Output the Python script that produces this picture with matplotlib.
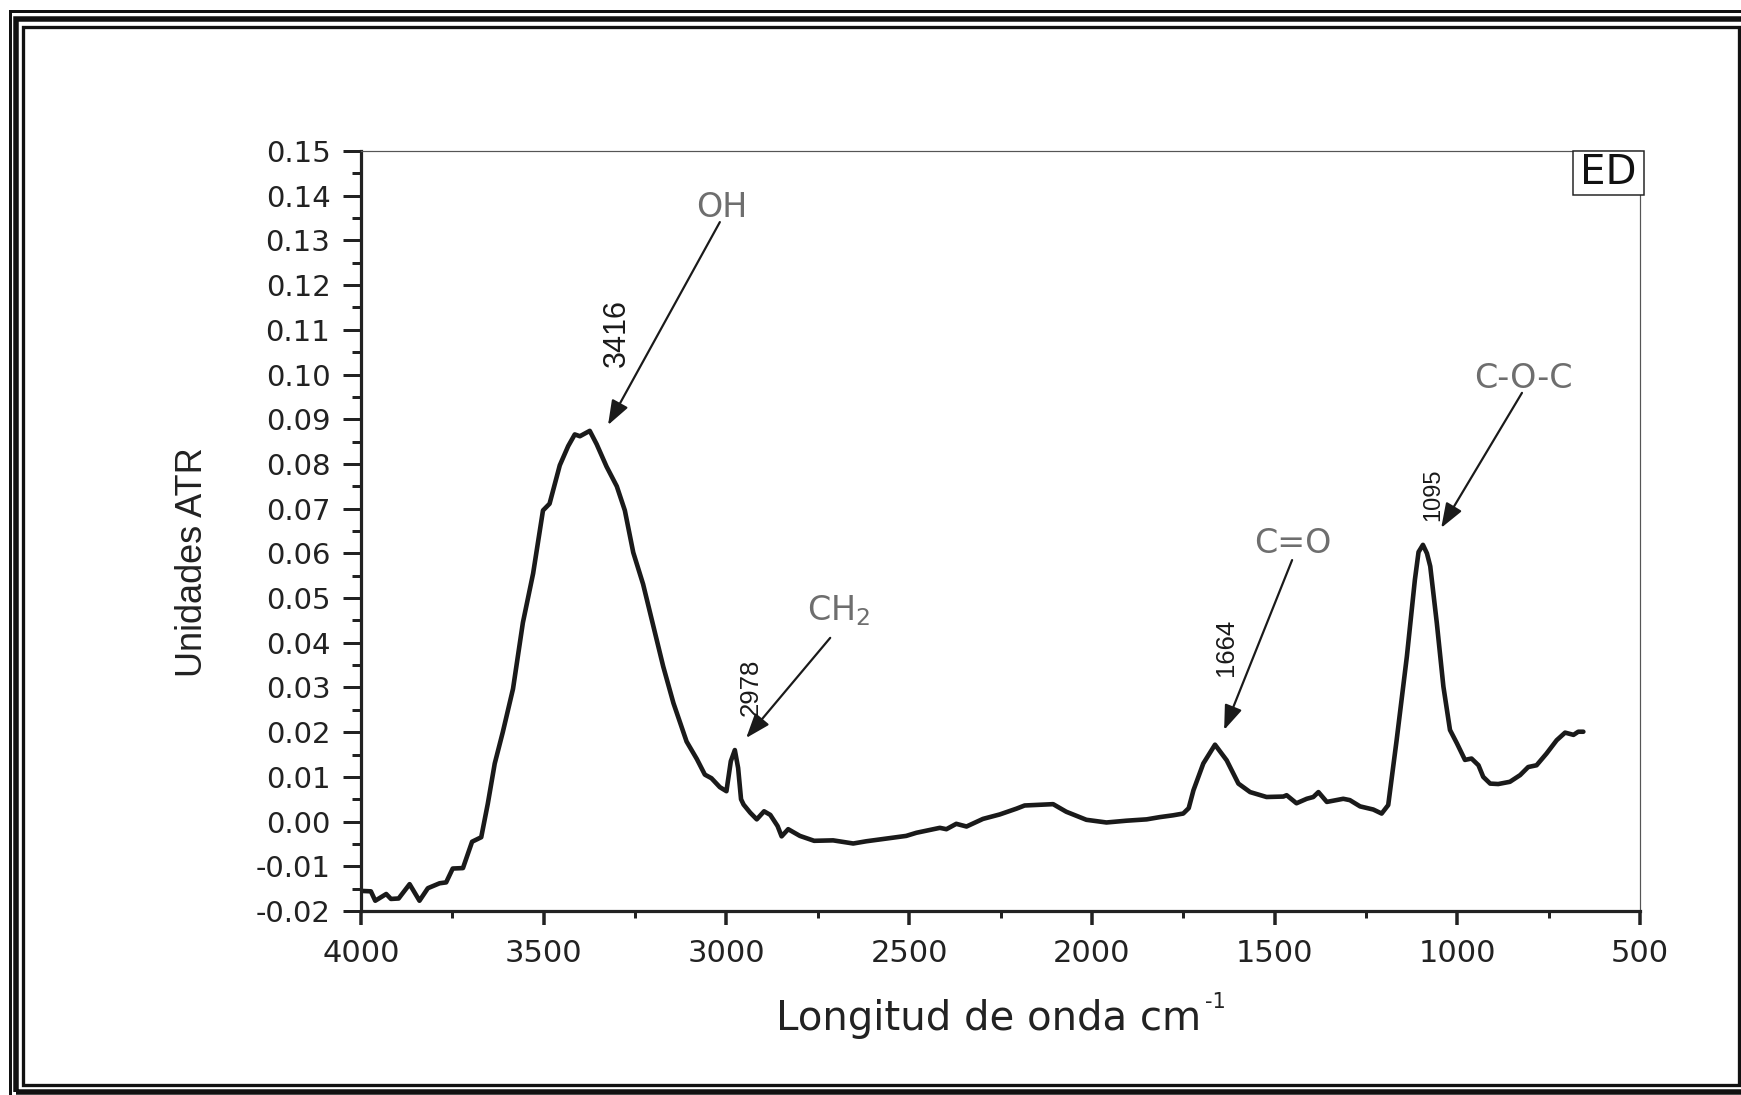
# import
import matplotlib
matplotlib.use('Agg')
import matplotlib.pyplot as plt
from matplotlib.patches import Rectangle
from matplotlib.ticker import MultipleLocator, FormatStrFormatter

# data
wavenumber = [4000, 3973, 3961, 3931, 3918, 3897, 3867, 3840, 3817, 3785,
              3767, 3749, 3721, 3696, 3671, 3653, 3634, 3612, 3584, 3557,
              3529, 3502, 3484, 3456, 3433, 3415, 3401, 3374, 3355, 3328,
              3300, 3278, 3255, 3228, 3200, 3173, 3145, 3109, 3081, 3059,
              3041, 3018, 3000, 2988, 2977, 2968, 2960, 2953, 2935, 2917,
              2897, 2880, 2860, 2849, 2831, 2799, 2760, 2708, 2653, 2617,
              2562, 2508, 2480, 2416, 2398, 2371, 2343, 2298, 2252, 2206,
              2184, 2106, 2070, 2015, 1960, 1905, 1850, 1814, 1778, 1750,
              1735, 1722, 1695, 1663, 1631, 1599, 1567, 1522, 1476, 1467,
              1440, 1412, 1394, 1380, 1357, 1312, 1294, 1266, 1230, 1207,
              1189, 1166, 1138, 1116, 1106, 1094, 1083, 1074, 1056, 1038,
              1020, 1001, 979, 961, 942, 929, 910, 888, 856, 828,
              806, 783, 756, 728, 705, 682, 669, 655]
absorbance = [-0.0155, -0.0156, -0.0177, -0.0162, -0.0173, -0.0172, -0.0140, -0.0177, -0.0149, -0.0138,
              -0.0136, -0.0105, -0.0104, -0.0045, -0.0035, 0.0040, 0.0130, 0.0200, 0.0297, 0.0445,
              0.0555, 0.0696, 0.0711, 0.0797, 0.0840, 0.0866, 0.0862, 0.0874, 0.0844, 0.0794,
              0.0750, 0.0696, 0.0602, 0.0531, 0.0437, 0.0347, 0.0265, 0.0179, 0.0140, 0.0105,
              0.0097, 0.0077, 0.0068, 0.0135, 0.0160, 0.0120, 0.0050, 0.0038, 0.0020, 0.0005,
              0.0023, 0.0015, -0.0010, -0.0033, -0.0017, -0.0032, -0.0043, -0.0042, -0.0049, -0.0044,
              -0.0038, -0.0032, -0.0025, -0.0014, -0.0017, -0.0005, -0.0011, 0.0006, 0.0016, 0.0029,
              0.0036, 0.0039, 0.0022, 0.0004, -0.0002, 0.0002, 0.0005, 0.0010, 0.0014, 0.0018,
              0.0030, 0.0070, 0.0130, 0.0172, 0.0137, 0.0085, 0.0066, 0.0055, 0.0056, 0.0059,
              0.0041, 0.0051, 0.0055, 0.0066, 0.0044, 0.0051, 0.0048, 0.0034, 0.0027, 0.0018,
              0.0037, 0.0182, 0.0369, 0.0541, 0.0603, 0.0619, 0.0600, 0.0571, 0.0444, 0.0302,
              0.0205, 0.0175, 0.0138, 0.0141, 0.0126, 0.0100, 0.0085, 0.0084, 0.0089, 0.0104,
              0.0122, 0.0126, 0.0152, 0.0182, 0.0199, 0.0194, 0.0201, 0.0201]

group_names = ['OH', 'CH$_2$', 'C=O', 'C-O-C']
peak_labels = ['3416', '2978', '1664', '1095']
sample_name = 'ED'

# parameters
W, H, DPI = 1741, 1095, 100
GRAY = '#6e6e6e'
INK = '#1a1a1a'
ARIAL = ['Liberation Sans', 'DejaVu Sans']

# annotation layout: (name xy, number xy, number size, arrow start, arrow tip)
layout = [
    ((3012, 0.1353), (3300, 0.1093), 22, (3018, 0.1341), (3324, 0.0887)),
    ((2692, 0.0451), (2933, 0.0301), 18.5, (2716, 0.0411), (2946, 0.0187)),
    ((1449, 0.0601), (1633, 0.0390), 18.5, (1452, 0.0585), (1638, 0.0205)),
    ((820, 0.0970), (1066, 0.0730), 17, (823, 0.0959), (1044, 0.0657)),
]


# def
def px(v):
    # pixels -> points
    return v * 72.0 / DPI


def frame(fig, left, top, right, bottom, lw):
    rect = Rectangle((left / W, 1 - bottom / H), (right - left) / W, (bottom - top) / H,
                     transform=fig.transFigure, fill=False, edgecolor='#111111',
                     linewidth=px(lw), joinstyle='miter')
    fig.patches.append(rect)


plt.rcParams['font.family'] = 'DejaVu Sans'
plt.rcParams['axes.unicode_minus'] = False

fig = plt.figure(figsize=(W / DPI, H / DPI), dpi=DPI)
ax = fig.add_axes([361 / W, 1 - 911 / H, (1640 - 361) / W, (911 - 151) / H])

# page border (triple line, cut on the right and bottom)
frame(fig, 10, 11, 1760, 1105, 3)
frame(fig, 16.2, 18.8, 1746, 1092, 5.5)
frame(fig, 23.3, 26.7, 1738.8, 1084.5, 3.3)

# spectrum
ax.plot(wavenumber, absorbance, color=INK, linewidth=px(4.6),
        solid_joinstyle='round', solid_capstyle='round')

# axes
ax.set_xlim(4000, 500)
ax.set_ylim(-0.02, 0.15)
ax.xaxis.set_major_locator(MultipleLocator(500))
ax.xaxis.set_minor_locator(MultipleLocator(250))
ax.yaxis.set_major_locator(MultipleLocator(0.01))
ax.yaxis.set_minor_locator(MultipleLocator(0.005))
ax.yaxis.set_major_formatter(FormatStrFormatter('%.2f'))

for side in ['left', 'bottom']:
    ax.spines[side].set_linewidth(px(3.2))
    ax.spines[side].set_color('#222222')
for side in ['top', 'right']:
    ax.spines[side].set_linewidth(px(1.2))
    ax.spines[side].set_color('#555555')

ax.tick_params(axis='y', which='major', direction='out', length=13, width=px(3),
               labelsize=21, pad=9, color='#222222', labelcolor='#222222')
ax.tick_params(axis='y', which='minor', direction='out', length=6.5, width=px(3),
               color='#222222')
ax.tick_params(axis='x', which='major', direction='out', length=10, width=px(3.5),
               labelsize=22, pad=10, color='#222222', labelcolor='#222222')
ax.tick_params(axis='x', which='minor', direction='out', length=5, width=px(3),
               color='#222222')

ax.set_xlabel('Longitud de onda cm', fontsize=29, color='#222222', va='baseline')
ax.xaxis.set_label_coords((989 - 361) / 1279, -0.1566)
ax.set_ylabel('Unidades ATR', fontsize=26, family=ARIAL, color='#222222', va='center')
ax.yaxis.set_label_coords((192 - 361) / 1279, (911 - 562) / 760)

# superscript of the x label, placed right after the label text
fig.canvas.draw()
box = ax.xaxis.label.get_window_extent()
fig.text((box.x1 + 3) / W, (H - 1008) / H, '-1', fontsize=15, color='#222222',
         ha='left', va='baseline')

# sample tag
ax.add_patch(Rectangle((0.9476, 0.9421), 0.0555, 0.0579, transform=ax.transAxes,
                       fill=True, facecolor='white', edgecolor='#222222',
                       linewidth=px(1.5), clip_on=False, zorder=5))
ax.text(0.9754, 0.971, sample_name, transform=ax.transAxes, ha='center', va='center',
        fontsize=29, color='#111111', zorder=6)

# peak annotations
for name, number, (name_xy, num_xy, num_size, start, tip) in zip(group_names, peak_labels, layout):
    ax.text(name_xy[0], name_xy[1], name, ha='center', va='baseline', fontsize=24, color=GRAY)
    ax.text(num_xy[0], num_xy[1], number, ha='center', va='center', rotation=90,
            rotation_mode='anchor', fontsize=num_size, family=ARIAL, color=INK)
    ax.annotate('', xy=tip, xytext=start,
                arrowprops=dict(arrowstyle='-|>,head_length=0.6,head_width=0.22',
                                mutation_scale=25, color=INK, linewidth=px(2.2),
                                shrinkA=0, shrinkB=0))

fig.savefig('out.png', dpi=DPI)
